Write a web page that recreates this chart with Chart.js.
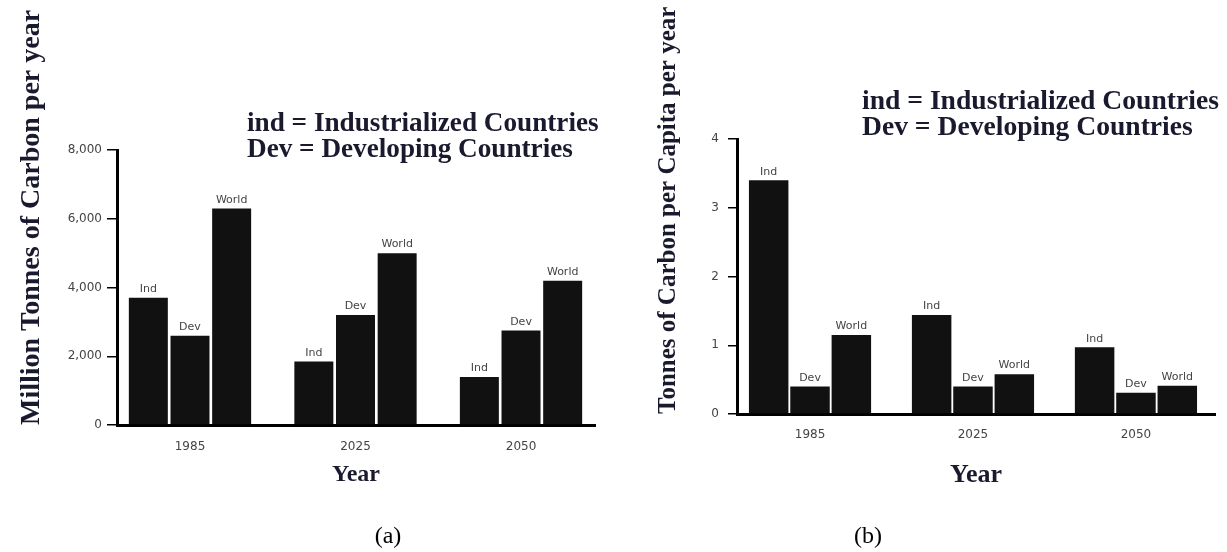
<!DOCTYPE html>
<html>
<head>
<meta charset="utf-8">
<script src="https://cdn.jsdelivr.net/npm/chart.js@4/dist/chart.umd.min.js"></script>
<style>
  body { margin: 0; background: #fff; }
  #wrap { position: relative; width: 1227px; height: 552px; overflow: hidden; }
  canvas { position: absolute; top: 0; }
  .key {
    position: absolute; white-space: pre; color: #1a1a2e;
    font-family: 'Liberation Serif', serif; font-weight: bold; line-height: 26px;
  }
  .cap {
    position: absolute; transform: translateX(-50%); color: #000;
    font: 24px/28px 'Liberation Serif', serif;
  }
</style>
</head>
<body>
<div id="wrap">
  <canvas id="chartA" width="610" height="552" style="left:0"></canvas>
  <canvas id="chartB" width="617" height="552" style="left:610px"></canvas>
  <div class="key" style="left:247px; top:109px; font-size:27.2px">ind = Industrialized Countries
Dev = Developing Countries</div>
  <div class="key" style="left:862px; top:87px; font-size:27.6px">ind = Industrialized Countries
Dev = Developing Countries</div>
  <div class="cap" style="left:388px; top:521px">(a)</div>
  <div class="cap" style="left:868px; top:521px">(b)</div>
</div>

<script>
// dados
const years = ['1985', '2025', '2050'];
const groupNames = ['Ind', 'Dev', 'World'];

// (a) milhões de toneladas de carbono por ano
const emitInd = [3700, 1850, 1400];
const emitDev = [2600, 3200, 2750];
const emitWorld = [6300, 5000, 4200];
const emitTicks = [0, 2000, 4000, 6000, 8000];

// (b) toneladas de carbono per capita por ano
const capInd = [3.4, 1.44, 0.97];
const capDev = [0.4, 0.4, 0.31];
const capWorld = [1.15, 0.58, 0.41];
const capTicks = [0, 1, 2, 3, 4];

Chart.defaults.font.family = "'DejaVu Sans', sans-serif";
Chart.defaults.animation = false;

const serif = "'Liberation Serif', 'Times New Roman', serif";
const inkColor = '#1a1a2e';

// escreve o nome da série em cima de cada barra
const rotuloBarras = {
    id: 'rotuloBarras',
    afterDatasetsDraw(chart) {
        const ctx = chart.ctx;
        ctx.save();
        ctx.font = "11px 'DejaVu Sans', sans-serif";
        ctx.fillStyle = '#444';
        ctx.textAlign = 'center';
        ctx.textBaseline = 'bottom';
        chart.data.datasets.forEach((ds, i) => {
            chart.getDatasetMeta(i).data.forEach(bar => {
                ctx.fillText(ds.label, bar.x, bar.y - 3);
            });
        });
        ctx.restore();
    }
};

function series(values) {
    return years.map((y, i) => ({ x: i, y: values[i] }));
}

function montarGrafico(id, cfg) {
    const ctx = document.getElementById(id).getContext('2d');
    const sets = cfg.values.map((vals, k) => ({
        label: groupNames[k],
        data: series(vals),
        backgroundColor: '#111',
        borderWidth: 0,
        categoryPercentage: cfg.catPct,
        barPercentage: cfg.barPct
    }));

    return new Chart(ctx, {
        type: 'bar',
        data: { datasets: sets },
        options: {
            responsive: false,
            layout: { padding: cfg.padding },
            plugins: { legend: { display: false }, tooltip: { enabled: false } },
            scales: {
                x: {
                    type: 'linear',
                    min: cfg.xMin,
                    max: cfg.xMax,
                    offset: false,
                    grid: { display: false, drawTicks: false },
                    border: { display: true, color: '#000', width: 3 },
                    afterBuildTicks: s => { s.ticks = years.map((y, i) => ({ value: i })); },
                    afterFit: s => { s.height = cfg.xHeight; },
                    ticks: {
                        padding: cfg.xTickPad,
                        color: '#444',
                        font: { size: 12 },
                        maxRotation: 0,
                        autoSkip: false,
                        callback: v => years[v] ?? ''
                    },
                    title: {
                        display: true,
                        text: 'Year',
                        color: inkColor,
                        font: { family: serif, size: cfg.xTitleSize, weight: 'bold', lineHeight: 1.2 },
                        padding: { top: 0, bottom: cfg.xTitlePad }
                    }
                },
                y: {
                    min: cfg.yTicks[0],
                    max: cfg.yTicks[cfg.yTicks.length - 1],
                    afterBuildTicks: s => { s.ticks = cfg.yTicks.map(v => ({ value: v })); },
                    afterFit: s => { s.width = cfg.yWidth; },
                    grid: {
                        display: true,
                        drawOnChartArea: false,
                        drawTicks: true,
                        tickLength: cfg.tickLen,
                        color: '#000',
                        lineWidth: 1.5
                    },
                    border: { display: true, color: '#000', width: 3 },
                    ticks: {
                        padding: cfg.yTickPad,
                        color: '#444',
                        font: { size: 12 },
                        callback: v => v.toLocaleString('en-US')
                    },
                    title: {
                        display: true,
                        text: cfg.yTitle,
                        align: 'start',
                        color: inkColor,
                        font: { family: serif, size: cfg.yTitleSize, weight: 'bold', lineHeight: 1 },
                        padding: { top: cfg.yTitlePad, bottom: 0 }
                    }
                }
            }
        },
        plugins: [rotuloBarras]
    });
}

montarGrafico('chartA', {
    values: [emitInd, emitDev, emitWorld],
    yTicks: emitTicks,
    yTitle: 'Million Tonnes of Carbon per year',
    padding: { left: 0, top: 150, right: 15, bottom: 57 },
    xMin: -0.441, xMax: 2.447,
    catPct: 0.755, barPct: 0.936,
    xHeight: 70, xTickPad: 15, xTitleSize: 24, xTitlePad: 5.6,
    yWidth: 117, tickLen: 10, yTickPad: 5, yTitleSize: 28, yTitlePad: 18
});

montarGrafico('chartB', {
    values: [capInd, capDev, capWorld],
    yTicks: capTicks,
    yTitle: 'Tonnes of Carbon per Capita per year',
    padding: { left: 0, top: 139, right: 12, bottom: 60 },
    xMin: -0.448, xMax: 2.485,
    catPct: 0.761, barPct: 0.955,
    xHeight: 78, xTickPad: 14, xTitleSize: 26, xTitlePad: 1.4,
    yWidth: 127, tickLen: 9, yTickPad: 9, yTitleSize: 25, yTitlePad: 46.5
});
</script>
</body>
</html>
